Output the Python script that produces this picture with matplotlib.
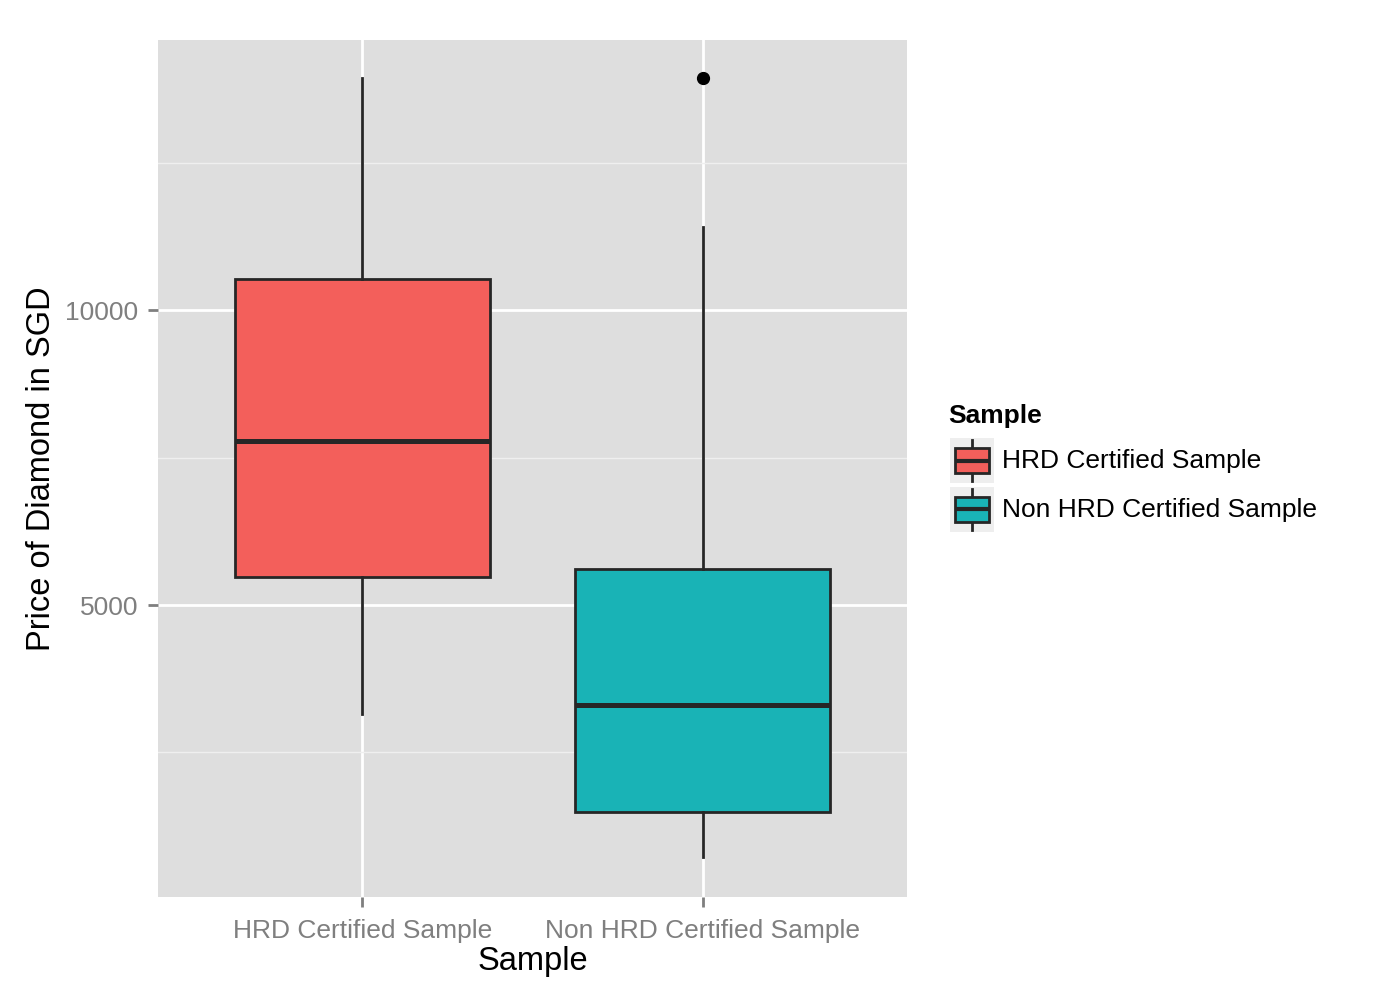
import matplotlib.pyplot as plt
from matplotlib.patches import Rectangle
from matplotlib.lines import Line2D

# box statistics (price in SGD)
groups = ["HRD Certified Sample", "Non HRD Certified Sample"]
whisker_low = [3150, 730]
q1 = [5475, 1490]
median = [7780, 3305]
q3 = [10525, 5610]
whisker_high = [13930, 11410]
outliers = [[], [13930]]

fills = ["#F35F5B", "#19B3B6"]
edge = "#262626"

plt.rcParams["font.family"] = ["Liberation Sans", "DejaVu Sans"]

fig = plt.figure(figsize=(14, 10), dpi=100)
ax = fig.add_axes([0.1129, 0.103, 0.535, 0.857])
ax.set_facecolor("#DEDEDE")

stats = []
for i, g in enumerate(groups):
    stats.append({
        "label": g,
        "whislo": whisker_low[i],
        "q1": q1[i],
        "med": median[i],
        "q3": q3[i],
        "whishi": whisker_high[i],
        "fliers": outliers[i],
    })

bp = ax.bxp(stats, positions=[1, 2], widths=0.75, patch_artist=True,
            showcaps=False, zorder=3,
            boxprops=dict(edgecolor=edge, linewidth=2.0),
            medianprops=dict(color=edge, linewidth=3.6, solid_capstyle="butt"),
            whiskerprops=dict(color=edge, linewidth=2.0),
            flierprops=dict(marker="o", markerfacecolor="black",
                            markeredgecolor="black", markersize=8.5))
for patch, c in zip(bp["boxes"], fills):
    patch.set_facecolor(c)

ax.set_xlim(0.4, 2.6)
ax.set_ylim(50, 14580)

ax.set_yticks([5000, 10000])
ax.set_yticks([2500, 7500, 12500], minor=True)
ax.set_xticks([1, 2])
ax.set_xticklabels(groups)
ax.grid(True, which="major", color="white", linewidth=2.0, zorder=0)
ax.grid(True, which="minor", color="#EFEFEF", linewidth=1.0, zorder=0)
ax.set_axisbelow(True)
ax.tick_params(which="major", length=7, width=2, color="#7F7F7F",
               labelcolor="#7F7F7F", labelsize=19)
ax.tick_params(axis="x", pad=9)
ax.tick_params(axis="y", pad=7)
ax.tick_params(which="minor", length=0)
for s in ax.spines.values():
    s.set_visible(False)

ax.set_xlabel("Sample", fontsize=23.5, labelpad=2)
ax.set_ylabel("Price of Diamond in SGD", fontsize=23.5, labelpad=6)

# legend drawn by hand, ggplot style keys
fig.text(948 / 1400, 1 - 416 / 1000, "Sample", fontsize=19, fontweight="bold",
         va="center", ha="left")
key_tops = [438, 487]
for i, g in enumerate(groups):
    top = key_tops[i]
    kx, kw, kh = 950, 44, 45
    fig.add_artist(Rectangle((kx / 1400, 1 - (top + kh) / 1000), kw / 1400, kh / 1000,
                             transform=fig.transFigure, facecolor="#EEEEEE",
                             edgecolor="none", zorder=1))
    cx = (kx + kw / 2) / 1400
    fig.add_artist(Line2D([cx, cx], [1 - (top + 2) / 1000, 1 - (top + kh - 2) / 1000],
                          transform=fig.transFigure, color=edge, linewidth=2.0, zorder=2))
    fig.add_artist(Rectangle(((kx + 5) / 1400, 1 - (top + 35) / 1000), 34 / 1400, 25 / 1000,
                             transform=fig.transFigure, facecolor=fills[i],
                             edgecolor=edge, linewidth=2.0, zorder=3))
    fig.add_artist(Line2D([(kx + 5) / 1400, (kx + 39) / 1400],
                          [1 - (top + 22.5) / 1000] * 2,
                          transform=fig.transFigure, color=edge, linewidth=3.0,
                          solid_capstyle="butt", zorder=4))
    fig.text(1002 / 1400, 1 - (top + 23) / 1000, g, fontsize=19,
             va="center", ha="left")

fig.savefig("out.png", dpi=100)
